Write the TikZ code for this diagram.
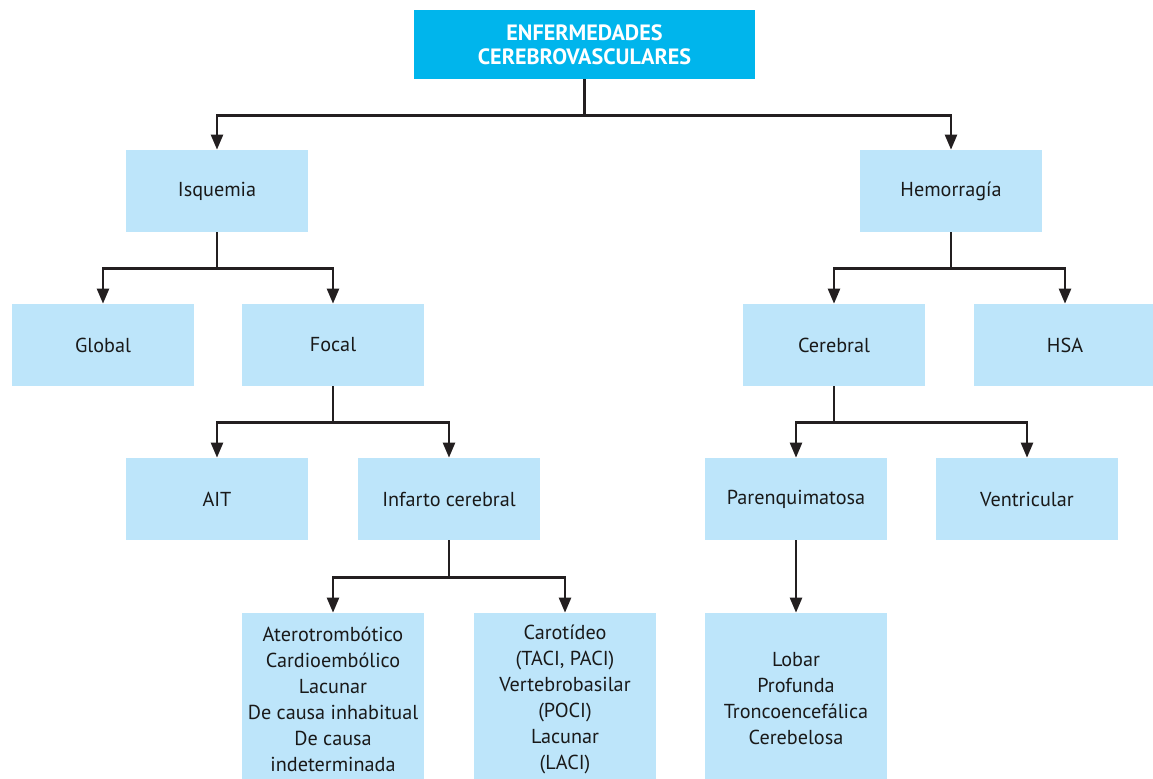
\documentclass[tikz,border=0pt]{standalone}
\usepackage{fontspec}
\setmainfont{PT Sans}
\usetikzlibrary{positioning,arrows.meta}
\definecolor{boxblue}{RGB}{189,229,250}
\definecolor{topblue}{RGB}{0,181,236}
\definecolor{linegray}{RGB}{35,31,32}
\tikzset{box/.style = {rectangle,fill=boxblue,text=black!90,minimum width=3.64cm,minimum height=1.64cm,inner sep=0pt,align=center,font=\fontsize{11.5}{14.8}\selectfont},
         topbox/.style = {box,fill=topblue,text=white,minimum width=6.82cm,minimum height=1.38cm,font=\fontsize{12.6}{13.7}\selectfont\bfseries},
         tall/.style = {box,minimum height=3.44cm},
         arr/.style = {draw=linegray,line width=1.35pt,-{Triangle[length=3mm,width=2.4mm]}}}

\begin{document}
\begin{tikzpicture}[x=0.02cm,y=-0.02cm]
                    \path[use as bounding box,clip] (0,0) rectangle (1153,778);
                    \node[topbox] (E) at (584.5,44.5) {ENFERMEDADES\\CEREBROVASCULARES};
                    \node[box] (I) at (217,191) {Isquemia};
                    \node[box] (H) at (951,191) {Hemorragía};
                    \node[box] (G) at (103,345) {Global};
                    \node[box] (F) at (333,345) {Focal};
                    \node[box] (C) at (834,345) {Cerebral};
                    \node[box] (S) at (1065,345) {HSA};
                    \node[box] (A) at (217,499) {AIT};
                    \node[box] (IC) at (449,499) {Infarto cerebral};
                    \node[box] (P) at (796,499) {Parenquimatosa};
                    \node[box] (V) at (1027,499) {Ventricular};
                    \node[tall] (T) at (333,699) {Aterotrombótico\\Cardioembólico\\Lacunar\\De causa inhabitual\\De causa\\indeterminada};
                    \node[tall] (K) at (565,699) {Carotídeo\\(TACI, PACI)\\Vertebrobasilar\\(POCI)\\Lacunar\\(LACI)};
                    \node[tall] (L) at (796,699) {Lobar\\Profunda\\Troncoencefálica\\Cerebelosa};
                    \draw[arr] (E.south) -- ++(0,36) -| (I);
                    \draw[arr] (E.south) -- ++(0,36) -| (H);
                    \draw[arr] (I.south) -- ++(0,36) -| (G);
                    \draw[arr] (I.south) -- ++(0,36) -| (F);
                    \draw[arr] (H.south) -- ++(0,36) -| (C);
                    \draw[arr] (H.south) -- ++(0,36) -| (S);
                    \draw[arr] (F.south) -- ++(0,36) -| (A);
                    \draw[arr] (F.south) -- ++(0,36) -| (IC);
                    \draw[arr] (C.south) -- ++(0,36) -| (P);
                    \draw[arr] (C.south) -- ++(0,36) -| (V);
                    \draw[arr] (IC.south) -- ++(0,37) -| (T);
                    \draw[arr] (IC.south) -- ++(0,37) -| (K);
                    \draw[arr] (P) -- (L);
                \end{tikzpicture}
\end{document}
